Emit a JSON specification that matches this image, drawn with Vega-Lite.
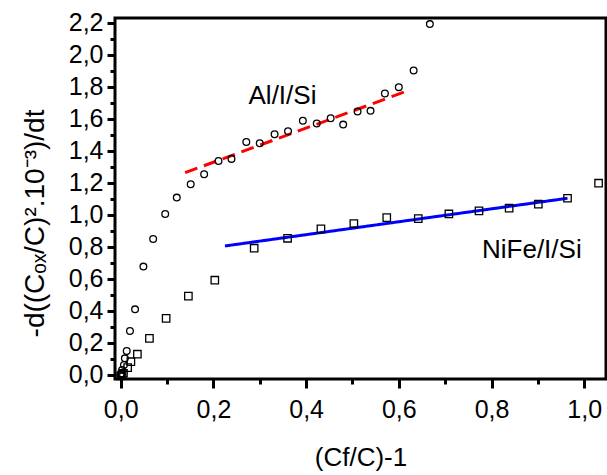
{
  "$schema": "https://vega.github.io/schema/vega-lite/v6.json",
  "width": 491,
  "height": 361,
  "autosize": {"type": "none"},
  "padding": {"left": 115, "top": 18, "right": 1, "bottom": 96},
  "background": "white",
  "config": {
    "view": {"stroke": "black", "strokeWidth": 3},
    "font": "Liberation Sans",
    "axis": {
      "grid": false,
      "domain": false,
      "tickColor": "black",
      "tickWidth": 3,
      "labelColor": "black",
      "titleColor": "black",
      "labelFont": "Liberation Sans",
      "titleFont": "Liberation Sans",
      "titleFontWeight": "normal"
    }
  },
  "datasets": {
    "circles": [
      {"x": 0.0, "y": 0.0}, {"x": 0.001, "y": 0.01}, {"x": 0.002, "y": 0.004}, {"x": 0.003, "y": 0.031},
      {"x": 0.007, "y": 0.063}, {"x": 0.009, "y": 0.104}, {"x": 0.013, "y": 0.15}, {"x": 0.02, "y": 0.275},
      {"x": 0.031, "y": 0.41}, {"x": 0.049, "y": 0.677}, {"x": 0.07, "y": 0.85}, {"x": 0.096, "y": 1.006},
      {"x": 0.121, "y": 1.108}, {"x": 0.151, "y": 1.192}, {"x": 0.18, "y": 1.254}, {"x": 0.211, "y": 1.337},
      {"x": 0.239, "y": 1.35}, {"x": 0.271, "y": 1.455}, {"x": 0.3, "y": 1.448}, {"x": 0.332, "y": 1.504},
      {"x": 0.361, "y": 1.523}, {"x": 0.393, "y": 1.588}, {"x": 0.423, "y": 1.571}, {"x": 0.453, "y": 1.604},
      {"x": 0.48, "y": 1.564}, {"x": 0.511, "y": 1.646}, {"x": 0.539, "y": 1.65}, {"x": 0.57, "y": 1.758},
      {"x": 0.6, "y": 1.798}, {"x": 0.632, "y": 1.902}, {"x": 0.667, "y": 2.192}
    ],
    "squares": [
      {"x": 0.0, "y": -0.005}, {"x": 0.003, "y": 0.004}, {"x": 0.006, "y": 0.011}, {"x": 0.015, "y": 0.046},
      {"x": 0.022, "y": 0.083}, {"x": 0.036, "y": 0.13}, {"x": 0.062, "y": 0.229}, {"x": 0.098, "y": 0.354},
      {"x": 0.146, "y": 0.493}, {"x": 0.203, "y": 0.592}, {"x": 0.288, "y": 0.792}, {"x": 0.36, "y": 0.854},
      {"x": 0.432, "y": 0.913}, {"x": 0.503, "y": 0.946}, {"x": 0.574, "y": 0.983}, {"x": 0.642, "y": 0.977},
      {"x": 0.708, "y": 1.006}, {"x": 0.773, "y": 1.025}, {"x": 0.838, "y": 1.042}, {"x": 0.901, "y": 1.067},
      {"x": 0.964, "y": 1.104}, {"x": 1.031, "y": 1.198}
    ],
    "fits": [
      {"series": "Al/I/Si", "x": 0.139, "y": 1.264},
      {"series": "Al/I/Si", "x": 0.611, "y": 1.767},
      {"series": "NiFe/I/Si", "x": 0.225, "y": 0.806},
      {"series": "NiFe/I/Si", "x": 0.964, "y": 1.104}
    ],
    "labels": [
      {"label": "Al/I/Si", "x": 0.349, "y": 1.694},
      {"label": "NiFe/I/Si", "x": 0.887, "y": 0.729}
    ]
  },
  "layer": [
    {
      "data": {"name": "fits"},
      "mark": {"type": "line", "strokeWidth": 3},
      "encoding": {
        "x": {"field": "x", "type": "quantitative", "scale": {"domain": [-0.0123, 1.047], "nice": false, "zero": false}, "axis": null},
        "y": {"field": "y", "type": "quantitative", "scale": {"domain": [-0.025, 2.23], "nice": false, "zero": false}, "axis": null},
        "color": {"field": "series", "type": "nominal", "scale": {"domain": ["Al/I/Si", "NiFe/I/Si"], "range": ["#ff0000", "#0000ff"]}, "legend": null},
        "strokeDash": {"field": "series", "type": "nominal", "scale": {"domain": ["Al/I/Si", "NiFe/I/Si"], "range": [[13, 7], [1, 0]]}, "legend": null}
      }
    },
    {
      "data": {"name": "circles"},
      "mark": {"type": "point", "shape": "circle", "filled": false, "size": 45, "stroke": "black", "strokeWidth": 1.3, "opacity": 1},
      "encoding": {
        "x": {
          "field": "x", "type": "quantitative",
          "axis": {
            "orient": "bottom",
            "values": [0, 0.2, 0.4, 0.6, 0.8, 1.0],
            "tickSize": 9,
            "labelPadding": 9,
            "labelFontSize": 25,
            "labelFlush": false,
            "labelOverlap": false,
            "labelExpr": "replace(format(datum.value, '.1f'), '.', ',')",
            "title": "(Cf/C)-1",
            "titleFontSize": 26,
            "titleBaseline": "alphabetic",
            "titleY": 86
          }
        },
        "y": {
          "field": "y", "type": "quantitative",
          "axis": {
            "orient": "left",
            "values": [0, 0.2, 0.4, 0.6, 0.8, 1.0, 1.2, 1.4, 1.6, 1.8, 2.0, 2.2],
            "tickSize": 8,
            "labelPadding": 4,
            "labelFontSize": 25,
            "labelFlush": false,
            "labelOverlap": false,
            "labelExpr": "replace(format(datum.value, '.1f'), '.', ',')",
            "title": "-d((Cₒₓ/C)².10⁻³)/dt",
            "titleFontSize": 28,
            "titleBaseline": "alphabetic",
            "titleX": -72,
            "titleY": 205
          }
        }
      }
    },
    {
      "data": {"name": "squares"},
      "mark": {"type": "point", "shape": "square", "filled": false, "size": 55, "stroke": "black", "strokeWidth": 1.3, "opacity": 1},
      "encoding": {
        "x": {
          "field": "x", "type": "quantitative",
          "axis": {"orient": "bottom", "values": [0.1, 0.3, 0.5, 0.7, 0.9], "labels": false, "tickSize": 5, "title": null}
        },
        "y": {
          "field": "y", "type": "quantitative",
          "axis": {"orient": "left", "values": [0.1, 0.3, 0.5, 0.7, 0.9, 1.1, 1.3, 1.5, 1.7, 1.9, 2.1], "labels": false, "tickSize": 5, "title": null}
        }
      }
    },
    {
      "data": {"name": "labels"},
      "mark": {"type": "text", "fontSize": 26, "align": "center", "baseline": "alphabetic", "color": "black", "font": "Liberation Sans"},
      "encoding": {
        "x": {"field": "x", "type": "quantitative", "axis": null},
        "y": {"field": "y", "type": "quantitative", "axis": null},
        "text": {"field": "label", "type": "nominal"}
      }
    }
  ],
  "resolve": {"axis": {"x": "independent", "y": "independent"}}
}
